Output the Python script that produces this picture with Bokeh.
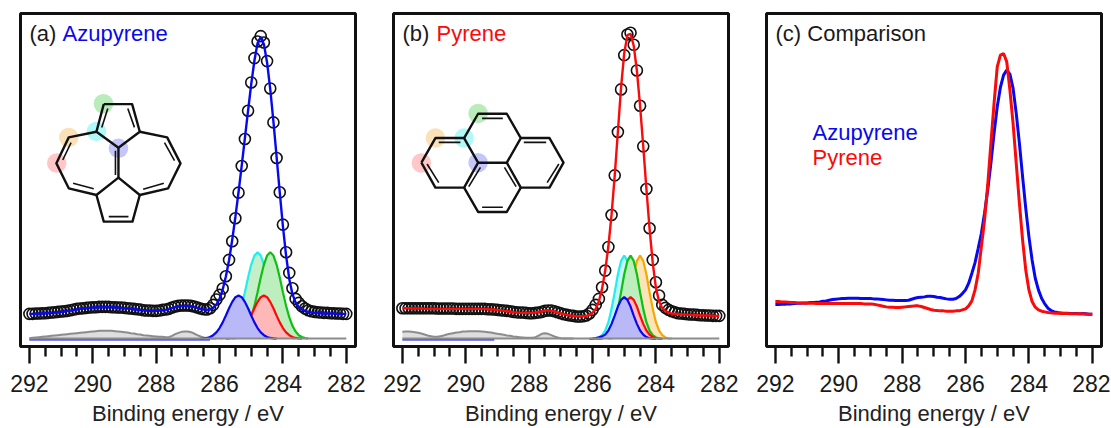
from bokeh.plotting import figure
from bokeh.layouts import row
from bokeh.models import Range1d, FixedTicker, Label
from bokeh.embed import file_html
from bokeh.resources import INLINE

# Sample grid: 292.0 eV down to 282.0 eV, step 0.1 eV
energy = [round(292 - i * 0.1, 1) for i in range(101)]

a_data = [7.5,7.5,7.6,7.6,7.7,7.7,7.8,7.9,8.0,8.1,
          8.2,8.3,8.4,8.6,8.8,9.0,9.1,9.2,9.3,9.4,
          9.5,9.5,9.6,9.6,9.6,9.6,9.5,9.5,9.4,9.4,
          9.3,9.2,9.1,9.0,8.9,8.8,8.6,8.5,8.5,8.4,
          8.4,8.5,8.7,8.8,9.0,9.4,9.7,9.9,10.0,10.0,
          10.0,9.9,9.7,9.4,9.1,8.9,8.8,9.2,10.2,11.8,
          13.2,15.1,18.8,23.7,29.3,36.2,43.9,51.9,60.0,68.5,
          77.0,84.3,89.3,90.9,89.0,83.4,75.2,65.0,54.3,44.0,
          34.3,26.0,19.8,15.2,12.0,10.8,9.8,9.1,8.6,8.3,
          8.1,8.0,7.9,7.8,7.8,7.7,7.7,7.6,7.6,7.5,
          7.5]
a_fit = [7.5,7.5,7.5,7.6,7.6,7.7,7.7,7.8,7.9,8.0,
         8.1,8.2,8.4,8.5,8.7,8.9,9.0,9.1,9.2,9.3,
         9.4,9.4,9.5,9.5,9.5,9.5,9.5,9.4,9.4,9.3,
         9.2,9.1,9.0,8.9,8.8,8.7,8.6,8.5,8.4,8.4,
         8.4,8.5,8.6,8.7,8.9,9.2,9.5,9.7,9.9,9.9,
         9.9,9.8,9.6,9.3,9.0,8.8,8.7,8.9,9.3,10.3,
         12.0,14.8,18.7,23.6,29.7,36.6,44.1,52.0,60.3,68.5,
         76.5,83.5,88.8,90.6,88.5,83.0,75.0,65.3,54.7,44.0,
         33.8,25.0,18.0,13.5,10.9,9.5,8.8,8.4,8.1,7.9,
         7.8,7.7,7.7,7.6,7.6,7.6,7.6,7.5,7.5,7.5,
         7.5]
a_bg = [0.2,0.3,0.4,0.5,0.6,0.7,0.8,0.9,1.0,1.1,
        1.2,1.3,1.4,1.5,1.6,1.7,1.8,1.9,2.0,2.1,
        2.2,2.3,2.4,2.4,2.4,2.4,2.4,2.3,2.2,2.1,
        2.0,1.9,1.7,1.6,1.4,1.3,1.1,1.0,0.9,0.8,
        0.7,0.6,0.6,0.5,0.5,0.9,1.4,1.8,2.1,2.2,
        2.2,2.0,1.6,1.1,0.7,0.4,0.2,0.1,0.1,0.1]
a_blue = [0.05,0.12,0.27,0.57,1.1,1.96,3.24,4.95,7.0,9.2,
          11.1,12.5,13.0,12.5,11.1,9.2,7.0,4.95,3.24,1.96,
          1.1,0.57,0.27,0.12,0.05]
a_red = [0.05,0.12,0.27,0.57,1.1,1.96,3.24,4.95,7.0,9.2,
         11.1,12.5,13.0,12.5,11.1,9.2,7.0,4.95,3.24,1.96,
         1.1,0.57,0.27,0.12,0.05]
a_cyan = [0.1,0.23,0.55,1.1,2.2,3.9,6.5,9.9,14.0,18.4,
          22.3,25.0,26.0,25.0,22.3,18.4,14.0,9.9,6.5,3.9,
          2.2,1.1,0.55,0.23,0.1]
a_green = list(a_cyan)

b_data = [9.2,9.2,9.2,9.2,9.2,9.2,9.2,9.2,9.2,9.2,
          9.2,9.1,9.1,9.1,9.1,9.1,9.1,9.0,9.0,9.0,
          9.0,9.0,9.0,9.0,9.0,9.0,9.0,8.9,8.9,8.8,
          8.7,8.6,8.5,8.4,8.3,8.1,8.0,7.9,7.9,7.8,
          7.7,7.7,7.8,7.9,8.1,8.4,8.5,8.5,8.3,8.0,
          7.7,7.4,7.2,7.0,6.9,6.7,6.7,6.8,7.0,7.6,
          8.7,10.2,12.0,15.5,20.5,27.6,37.2,49.1,62.1,74.9,
          85.2,91.4,91.9,88.3,80.6,70.0,57.8,45.0,33.2,23.7,
          17.0,13.0,10.2,9.3,8.7,8.3,8.0,7.7,7.6,7.5,
          7.4,7.3,7.3,7.2,7.1,7.1,7.0,7.0,6.9,6.9,
          6.9]
b_fit = [9.2,9.2,9.2,9.1,9.1,9.1,9.1,9.0,9.0,9.0,
         9.0,9.0,9.0,9.0,9.0,9.0,9.0,9.0,9.0,9.0,
         9.0,9.0,9.0,9.0,9.0,9.0,9.0,8.9,8.8,8.8,
         8.7,8.6,8.4,8.3,8.2,8.0,7.9,7.8,7.8,7.8,
         7.8,7.8,7.9,8.1,8.3,8.5,8.5,8.4,8.2,7.9,
         7.6,7.4,7.2,7.0,6.9,6.8,6.8,6.8,6.9,7.2,
         7.8,9.0,11.3,15.0,20.5,27.8,37.3,49.0,62.2,75.5,
         85.8,91.2,91.6,88.0,80.5,70.0,57.8,45.0,33.0,22.8,
         15.3,11.2,9.2,8.3,7.9,7.6,7.5,7.4,7.3,7.3,
         7.2,7.2,7.1,7.1,7.1,7.0,7.0,7.0,6.9,6.9,
         6.9]
b_bg = [2.1,2.2,2.2,2.1,2.0,1.8,1.6,1.3,1.0,0.8,
        0.6,0.6,0.8,1.0,1.3,1.5,1.7,1.9,2.0,2.2,
        2.2,2.3,2.3,2.3,2.3,2.2,2.1,2.0,1.9,1.7,
        1.5,1.4,1.2,1.0,0.9,0.7,0.6,0.5,0.4,0.3,
        0.3,0.3,0.5,1.0,1.5,1.7,1.5,1.1,0.7,0.4,
        0.2,0.1,0.1,0.1,0.1]
b_blue = [0.03,0.08,0.2,0.43,0.75,1.26,2.5,4.5,7.0,9.7,
          11.7,12.5,11.7,9.7,7.0,4.5,2.5,1.26,0.55,0.2,
          0.08,0.03]
b_red = list(b_blue)
b_side = [0.06,0.15,0.42,1.1,2.5,5.0,9.0,14.0,19.4,23.4,25.0,23.4,19.4,14.0,9.0,5.0,2.5,1.1,0.42,0.15,0.06]

c_azu = [10.3,10.3,10.4,10.4,10.5,10.5,10.6,10.7,10.7,10.8,
         10.8,10.9,10.9,11.0,11.1,11.3,11.4,11.6,11.8,11.9,
         12.0,12.1,12.1,12.2,12.2,12.2,12.2,12.1,12.1,12.1,
         12.1,12.0,12.0,11.9,11.8,11.7,11.6,11.6,11.5,11.5,
         11.5,11.5,11.6,11.9,12.2,12.4,12.5,12.6,12.8,12.8,
         12.7,12.5,12.4,12.2,12.0,11.9,11.9,12.1,12.7,13.6,
         14.7,16.7,19.7,22.9,27.2,31.7,37.7,44.7,52.7,61.7,
         69.7,75.5,79.2,80.7,79.5,75.2,67.7,58.7,48.7,39.2,
         30.7,23.7,18.2,14.7,12.2,10.5,9.2,8.5,8.1,7.9,
         7.8,7.7,7.7,7.6,7.6,7.6,7.5,7.6,7.5,7.4,
         7.4]
c_pyr = [11.2,11.2,11.1,11.1,11.0,10.9,10.9,10.8,10.8,10.7,
         10.7,10.7,10.7,10.6,10.6,10.6,10.6,10.6,10.6,10.6,
         10.6,10.6,10.6,10.6,10.6,10.6,10.6,10.6,10.5,10.5,
         10.5,10.4,10.2,10.0,9.8,9.6,9.5,9.5,9.4,9.4,
         9.5,9.6,9.7,9.8,9.9,9.9,9.7,9.4,9.1,8.8,
         8.6,8.5,8.4,8.4,8.3,8.3,8.3,8.4,8.4,8.7,
         9.0,9.9,11.4,14.7,19.7,27.7,35.7,46.2,58.7,70.7,
         81.7,85.2,85.7,83.2,74.7,64.7,52.7,40.7,29.7,20.7,
         14.7,11.2,9.5,8.7,8.3,8.1,7.9,7.8,7.7,7.7,
         7.6,7.6,7.6,7.5,7.5,7.5,7.5,7.5,7.4,7.4,
         7.4]

major_ticks = [292, 290, 288, 286, 284, 282]
minor_ticks = [291.5, 291, 290.5, 289.5, 289, 288.5, 287.5, 287, 286.5, 285.5, 285, 284.5, 283.5, 283, 282.5]
x_label = "Binding energy / eV"

# Molecule sketches, in sketch coordinates (3 units per pixel)
azu_bonds = [
    [(310,312),(395,312),(418,395),(354,443),(288,395),(310,312)],
    [(418,395),(500,412),(540,490),(503,565),(418,585),(354,533),(288,585),(205,565),(168,490),(205,412),(288,395)],
    [(354,443),(354,533)],
    [(418,585),(396,665),(310,665),(288,585)],
    [(322,325),(304,382)], [(382,325),(402,382)], [(212,428),(187,480)], [(492,428),(522,482)],
    [(218,550),(280,566)], [(428,568),(490,550)], [(325,650),(384,650)], [(345,452),(345,525)],
]
azu_spots = [(169,489),(205,412),(288,394),(309,311),(354,445)]
pyr_bonds = [
    [(153,488),(195,414),(281,414),(323,488),(281,563),(195,563),(153,488)],
    [(281,414),(323,341),(409,341),(451,414),(409,488),(323,488)],
    [(451,414),(537,414),(579,488),(537,563),(451,563),(409,488)],
    [(281,563),(323,636),(409,636),(451,563)],
    [(205,427),(270,427)], [(170,492),(205,548)], [(335,355),(397,355)], [(460,427),(527,427)],
    [(565,492),(530,548)], [(335,622),(397,622)], [(330,502),(295,560)], [(402,502),(437,560)],
]
pyr_spots = [(153,489),(195,414),(281,414),(323,340),(323,488)]
spot_colors = ["#ff6b6b", "#f5b041", "#33eeee", "#44cc44", "#6666ee"]

FONT = "Liberation Sans"
BLUE = "#0808f0"
RED = "#fa0a0a"


def make_panel(width, border_right):
    p = figure(width=width, height=428, output_backend="svg", toolbar_location=None,
               x_range=Range1d(292.28, 281.71), y_range=Range1d(-2.3, 97.7),
               min_border_left=20, min_border_right=border_right,
               min_border_top=13, min_border_bottom=81, background_fill_color="white",
               x_axis_label=x_label, tools="")
    p.grid.visible = False
    p.yaxis.visible = False
    p.outline_line_color = "#111111"
    p.outline_line_width = 3
    ax = p.xaxis[0]
    ax.ticker = FixedTicker(ticks=major_ticks, minor_ticks=minor_ticks)
    ax.axis_line_color = None
    ax.major_tick_in = 0
    ax.major_tick_out = 17
    ax.minor_tick_in = 0
    ax.minor_tick_out = 10
    ax.major_tick_line_width = 2.4
    ax.minor_tick_line_width = 2.4
    ax.major_tick_line_color = "#111111"
    ax.minor_tick_line_color = "#111111"
    ax.major_label_text_font = FONT
    ax.major_label_text_font_size = "23px"
    ax.major_label_text_color = "#1a1a1a"
    ax.major_label_standoff = 11
    ax.axis_label_text_font = FONT
    ax.axis_label_text_font_size = "22px"
    ax.axis_label_text_font_style = "normal"
    ax.axis_label_text_color = "#222222"
    ax.axis_label_standoff = 6
    return p


def component(p, xs, ys, line, fill):
    p.varea(xs, [0] * len(xs), ys, fill_color=fill)
    p.line(xs, ys, line_color=line, line_width=2.2)


def grid(start, n):
    return [round(start - i * 0.1, 1) for i in range(n)]


def molecule(p, bonds, spots, base):
    conv_x = lambda z: 292 - (z - base) / 95
    conv_y = lambda z: (1017 - z) / 10
    p.scatter([conv_x(s[0]) for s in spots], [conv_y(s[1]) for s in spots], size=19.5,
              fill_color=spot_colors, fill_alpha=0.38, line_color=None)
    p.multi_line([[conv_x(v[0]) for v in b] for b in bonds],
                 [[conv_y(v[1]) for v in b] for b in bonds],
                 line_color="#111111", line_width=[2.4 if len(b) > 2 or i == 2 else 1.6 for i, b in enumerate(bonds)],
                 line_join="round")


def label(p, x, y, text, color="#1a1a1a", size="22px"):
    p.add_layout(Label(x=x, y=y, x_units="screen", y_units="screen", text=text,
                       text_color=color, text_font=FONT, text_font_size=size))


# ---- panel a
pa = make_panel(373, 18)
pa.varea(energy[:60], [0] * 60, a_bg, fill_color="#dedede")
pa.line(energy[:60], a_bg, line_color="#8c8c8c", line_width=2)
component(pa, grid(286.0, 25), a_cyan, "#22eeee", "#c4efc8")
component(pa, grid(285.6, 25), a_green, "#10c010", "#bdeebd")
component(pa, grid(285.8, 25), a_red, RED, "#ffb8b8")
component(pa, grid(286.6, 25), a_blue, BLUE, "#b9b9f7")
pa.line(energy[:58], [-0.3] * 58, line_color=BLUE, line_width=1.2)
pa.line(energy, [0.1] * 101, line_color="#8c8c8c", line_width=2)
pa.scatter(energy, a_data, size=11, marker="circle", fill_color=None, line_color="#111111", line_width=1.6)
pa.line(energy, a_fit, line_color=BLUE, line_width=2.4)
molecule(pa, azu_bonds, azu_spots, 87)
label(pa, 9, 301, "(a)")
label(pa, 42, 301, "Azupyrene", BLUE)

# ---- panel b
pb = make_panel(373, 18)
pb.varea(energy[:55], [0] * 55, b_bg, fill_color="#dedede")
pb.line(energy[:55], b_bg, line_color="#8c8c8c", line_width=2)
component(pb, grid(286.0, 21), b_side, "#22eeee", "#c6f7f7")
component(pb, grid(285.5, 21), b_side, "#f5a800", "#fde4b8")
component(pb, grid(285.8, 21), b_side, "#10c010", "#bdeebd")
component(pb, grid(285.9, 22), b_red, RED, "#ffb8b8")
component(pb, grid(286.1, 22), b_blue, BLUE, "#b9b9f7")
pb.line(energy[:30], [-0.3] * 30, line_color=BLUE, line_width=1.2)
pb.line(energy, [0.1] * 101, line_color="#8c8c8c", line_width=2)
pb.scatter(energy, b_data, size=11, marker="circle", fill_color=None, line_color="#111111", line_width=1.6)
pb.line(energy, b_fit, line_color=RED, line_width=2.4)
molecule(pb, pyr_bonds, pyr_spots, 96)
label(pb, 9, 301, "(b)")
label(pb, 43, 301, "Pyrene", RED)

# ---- panel c
pc = make_panel(364, 9)
pc.line(energy, c_azu, line_color=BLUE, line_width=3)
pc.line(energy, c_pyr, line_color=RED, line_width=3)
label(pc, 9, 301, "(c) Comparison")
label(pc, 46, 202, "Azupyrene", BLUE)
label(pc, 46, 177, "Pyrene", RED)

page = row(pa, pb, pc, spacing=0)
open("out.html", "w").write(file_html(page, INLINE))
